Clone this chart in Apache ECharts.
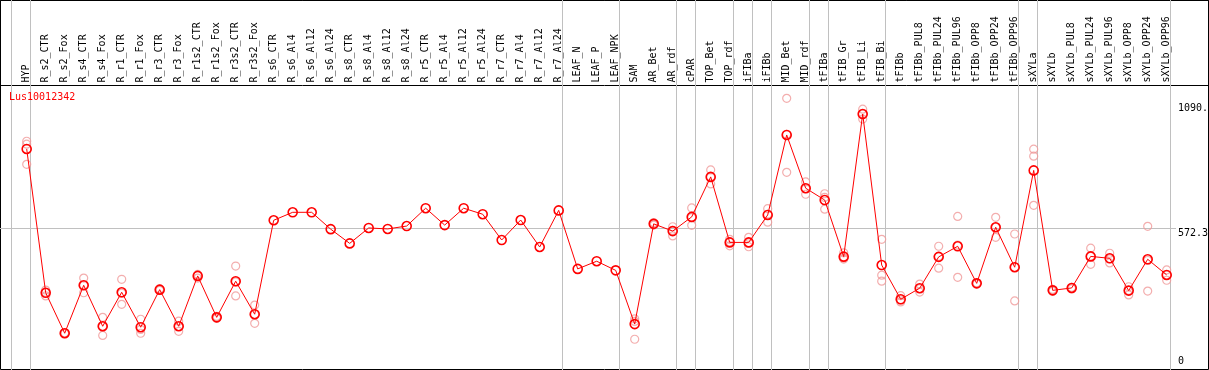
<!DOCTYPE html>
<html><head><meta charset="utf-8">
<script src="https://cdn.jsdelivr.net/npm/echarts@6/dist/echarts.min.js"></script>
<style>html,body{margin:0;padding:0;background:#fff}#c{width:1209px;height:370px}</style>
</head><body><div id="c"></div>
<script>
const geneName = 'Lus10012342';
const categories = ['HYP','R_s2_CTR','R_s2_Fox','R_s4_CTR','R_s4_Fox','R_r1_CTR','R_r1_Fox','R_r3_CTR','R_r3_Fox','R_r1s2_CTR','R_r1s2_Fox','R_r3s2_CTR','R_r3s2_Fox','R_s6_CTR','R_s6_Al4','R_s6_Al12','R_s6_Al24','R_s8_CTR','R_s8_Al4','R_s8_Al12','R_s8_Al24','R_r5_CTR','R_r5_Al4','R_r5_Al12','R_r5_Al24','R_r7_CTR','R_r7_Al4','R_r7_Al12','R_r7_Al24','LEAF_N','LEAF_P','LEAF_NPK','SAM','AR_Bet','AR_rdf','cPAR','TOP_Bet','TOP_rdf','iFIBa','iFIBb','MID_Bet','MID_rdf','tFIBa','tFIB_Gr','tFIB_Li','tFIB_Bi','tFIBb','tFIBb_PUL8','tFIBb_PUL24','tFIBb_PUL96','tFIBb_OPP8','tFIBb_OPP24','tFIBb_OPP96','sXYLa','sXYLb','sXYLb_PUL8','sXYLb_PUL24','sXYLb_PUL96','sXYLb_OPP8','sXYLb_OPP24','sXYLb_OPP96'];
const meanValues = [901,304,136,335,165,306,161,317,165,374,202,352,215,
  605,638,638,568,509,573,569,581,655,585,655,630,523,606,494,646,
  403,435,397,174,590,560,619,785,513,513,627,959,738,689,454,1046,419,
  277,323,453,497,343,576,410,812,314,324,455,447,313,443,378];
const rep1 = [933,315,138,365,202,360,194,320,186,365,206,415,253,
  null,null,null,null,null,null,null,null,null,null,null,null,null,null,null,null,null,null,null,
  196,595,578,656,814,526,534,653,1111,764,715,470,1066,526,292,340,497,621,345,617,548,900,318,327,489,468,329,580,399];
const rep2 = [921,291,134,304,127,256,136,314,144,380,198,291,177,
  null,null,null,null,null,null,null,null,null,null,null,null,null,null,null,null,null,null,null,
  111,585,540,584,756,499,495,597,804,713,651,444,1025,377,266,307,406,368,341,534,270,871,310,320,422,428,295,311,356];
const rep3 = [837,306,136,336,165,302,152,317,164,376,202,349,214,
  null,null,null,null,null,null,null,null,null,null,null,null,null,null,null,null,null,null,null,
  185,589,563,616,784,515,511,630,962,736,700,448,1047,352,274,321,455,502,343,576,410,667,314,324,455,445,314,438,378];
const groupEnds = [-1,0,28,31,34,35,37,38,39,41,42,45,52,53,60];
const yTickValues = [0, 572.3, 1090];
const yTickLabels = ['0', '572.3', '1090.'];

const FONT = 'DejaVu Sans Mono';
const X_MIN = -1.4053, X_MAX = 60.4895;
const Y_MAX = 1164.4;

const meanData = meanValues.map((v, i) => [i, v]);
const repData = [];
[rep1, rep2, rep3].forEach(arr => arr.forEach((v, i) => { if (v != null) repData.push([i, v]); }));
const sepValues = groupEnds.map(g => g + 0.21);

const hiddenX = (gi) => ({type:'value', gridIndex:gi, show:false, min:X_MIN, max:X_MAX});
const hiddenY = (gi) => ({type:'value', gridIndex:gi, show:false, min:0, max:1});

const chart = echarts.init(document.getElementById('c'), null, {renderer:'canvas'});
chart.setOption({
  animation: false,
  backgroundColor: '#fff',
  title: {text: geneName, left: 9, top: 92, padding: 0,
    textStyle: {color:'#ff0000', fontSize:10, fontFamily:FONT, fontWeight:'normal'}},
  grid: [
    {left:0.5, right:0.5, top:0.5, bottom:0.5, show:true, borderColor:'#000', borderWidth:1, backgroundColor:'transparent'},
    {left:0.5, right:0.5, top:0.5, height:85, show:true, borderColor:'#000', borderWidth:1, backgroundColor:'transparent'},
    {left:0, right:33, top:85.5, bottom:4},
    {left:0, right:33, top:0, bottom:0}
  ],
  xAxis: [
    hiddenX(0), hiddenX(1),
    {type:'value', gridIndex:2, position:'top', min:X_MIN, max:X_MAX,
      axisLine:{show:false}, axisTick:{show:false}, splitLine:{show:false},
      axisLabel:{show:true, customValues: categories.map((c, i) => i), rotate:90, margin:3,
        formatter: v => categories[Math.round(v)] || '', fontFamily:FONT, fontSize:10, color:'#000', hideOverlap:false}},
    hiddenX(3)
  ],
  yAxis: [
    hiddenY(0), hiddenY(1),
    {type:'value', gridIndex:2, show:false, min:0, max:Y_MAX},
    hiddenY(3)
  ],
  series: [
    {type:'line', xAxisIndex:3, yAxisIndex:3, data:[], silent:true, z:0, zlevel:0,
      markLine:{silent:true, symbol:'none', animation:false, z:0,
        lineStyle:{color:'#c0c0c0', width:1, type:'solid'}, label:{show:false},
        emphasis:{disabled:true},
        data: sepValues.map(v => ({xAxis: v}))}},
    {type:'line', xAxisIndex:2, yAxisIndex:2, data:[], silent:true, z:1,
      markLine:{silent:true, symbol:'none', animation:false, emphasis:{disabled:true}, z:1,
        data: yTickValues.map((v, k) => ({yAxis: v, name: yTickLabels[k],
          lineStyle:{color: k === 1 ? '#c0c0c0' : 'rgba(255,255,255,0)', width:1, type:'solid'},
          label:{show:true, position:'end', formatter:'{b}', distance:2,
            verticalAlign: k === 0 ? 'bottom' : 'top', align:'left',
            fontFamily:FONT, fontSize:10, color:'#000'}}))}},
    {type:'scatter', xAxisIndex:2, yAxisIndex:2, data: repData, symbol:'circle', symbolSize:8,
      itemStyle:{color:'rgba(0,0,0,0)', borderColor:'#f09a9a', borderWidth:1.2}, silent:true, z:3},
    {type:'line', xAxisIndex:2, yAxisIndex:2, data: meanData, symbol:'circle', symbolSize:9,
      showAllSymbol:true, silent:true, z:4,
      lineStyle:{color:'#ff0000', width:1},
      itemStyle:{color:'rgba(0,0,0,0)', borderColor:'#ff0000', borderWidth:1.6}}
  ]
});
</script></body></html>
